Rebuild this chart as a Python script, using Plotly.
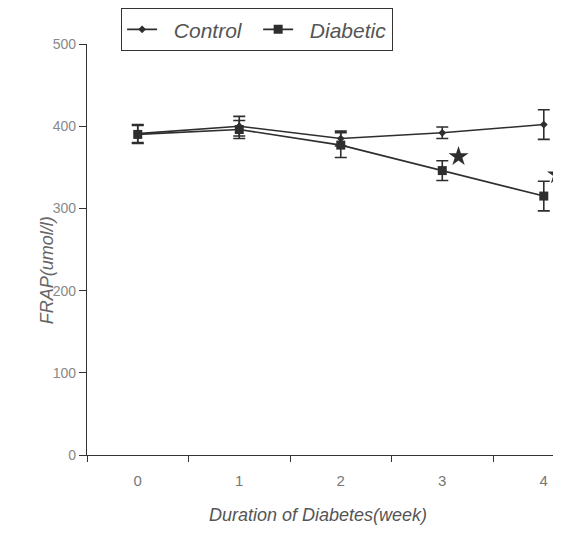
import plotly.graph_objects as go

weeks = [0, 1, 2, 3, 4]
week_labels = ["0", "1", "2", "3", "4"]
control = [391, 400, 385, 392, 402]
control_err = [11, 12, 9, 7, 18]
diabetic = [390, 396, 377, 346, 315]
diabetic_err = [11, 11, 15, 12, 18]
star_x = [3.16, 4.13]
star_y = [363, 341]
y_ticks = [0, 100, 200, 300, 400, 500]

ink = "#2e2e2e"
fnt = "Liberation Sans, Arial, sans-serif"
nb = "\u00a0"

fig = go.Figure()
fig.add_trace(go.Scatter(
    x=weeks, y=control, name=nb * 2 + "Control" + nb * 2, mode="lines+markers",
    line=dict(color=ink, width=1.6), cliponaxis=False,
    marker=dict(symbol="diamond", size=6, color=ink),
    error_y=dict(type="data", array=control_err, color=ink, thickness=1.6, width=6),
))
fig.add_trace(go.Scatter(
    x=weeks, y=diabetic, name=nb * 2 + "Diabetic", mode="lines+markers",
    line=dict(color=ink, width=1.6), cliponaxis=False,
    marker=dict(symbol="square", size=9, color=ink),
    error_y=dict(type="data", array=diabetic_err, color=ink, thickness=1.6, width=6),
))
fig.add_trace(go.Scatter(
    x=star_x, y=star_y, mode="markers", showlegend=False, cliponaxis=False,
    marker=dict(symbol="star", size=15, color=ink),
    hoverinfo="skip",
))

# page body has an 8px margin, so the figure is sized/positioned to compensate
fig.update_layout(
    width=553, height=548,
    margin=dict(l=79, r=3, t=36, b=101, autoexpand=False),
    plot_bgcolor="white", paper_bgcolor="white",
    font=dict(family=fnt, color="#777"),
    legend=dict(
        orientation="h", x=0.072, y=1.0876, xanchor="left", yanchor="top",
        bordercolor="#333", borderwidth=1.2, bgcolor="white",
        font=dict(size=21, color="#555", family=fnt, style="italic"),
        itemwidth=30, tracegroupgap=0,
    ),
    showlegend=True,
)
fig.update_xaxes(
    range=[-0.5, 4.14], tickvals=weeks, ticktext=week_labels,
    showline=True, linecolor="#333", linewidth=1.3,
    ticks="", showgrid=False, zeroline=False, automargin=False,
    tickfont=dict(size=15, color="#777"), ticklabelstandoff=12,
    minor=dict(tick0=0.5, dtick=1, ticks="outside", ticklen=6, tickcolor="#333", tickwidth=1.3, showgrid=False),
)
fig.update_yaxes(
    range=[0, 500], tickvals=y_ticks,
    showline=True, linecolor="#333", linewidth=1.3,
    ticks="outside", ticklen=7, tickcolor="#333", tickwidth=1.3,
    showgrid=False, zeroline=False, automargin=False,
    tickfont=dict(size=14, color="#888"),
)
fig.add_annotation(
    text="FRAP(umol/l)", xref="paper", yref="paper",
    x=-0.11, y=0.45, textangle=-90, showarrow=False,
    font=dict(size=18, color="#666", family=fnt, style="italic"),
)
fig.add_annotation(
    text="Duration of Diabetes(week)", xref="paper", yref="paper",
    x=0.49, y=-0.175, showarrow=False,
    font=dict(size=18, color="#555", family=fnt, style="italic"),
)
fig.write_html("out.html")
